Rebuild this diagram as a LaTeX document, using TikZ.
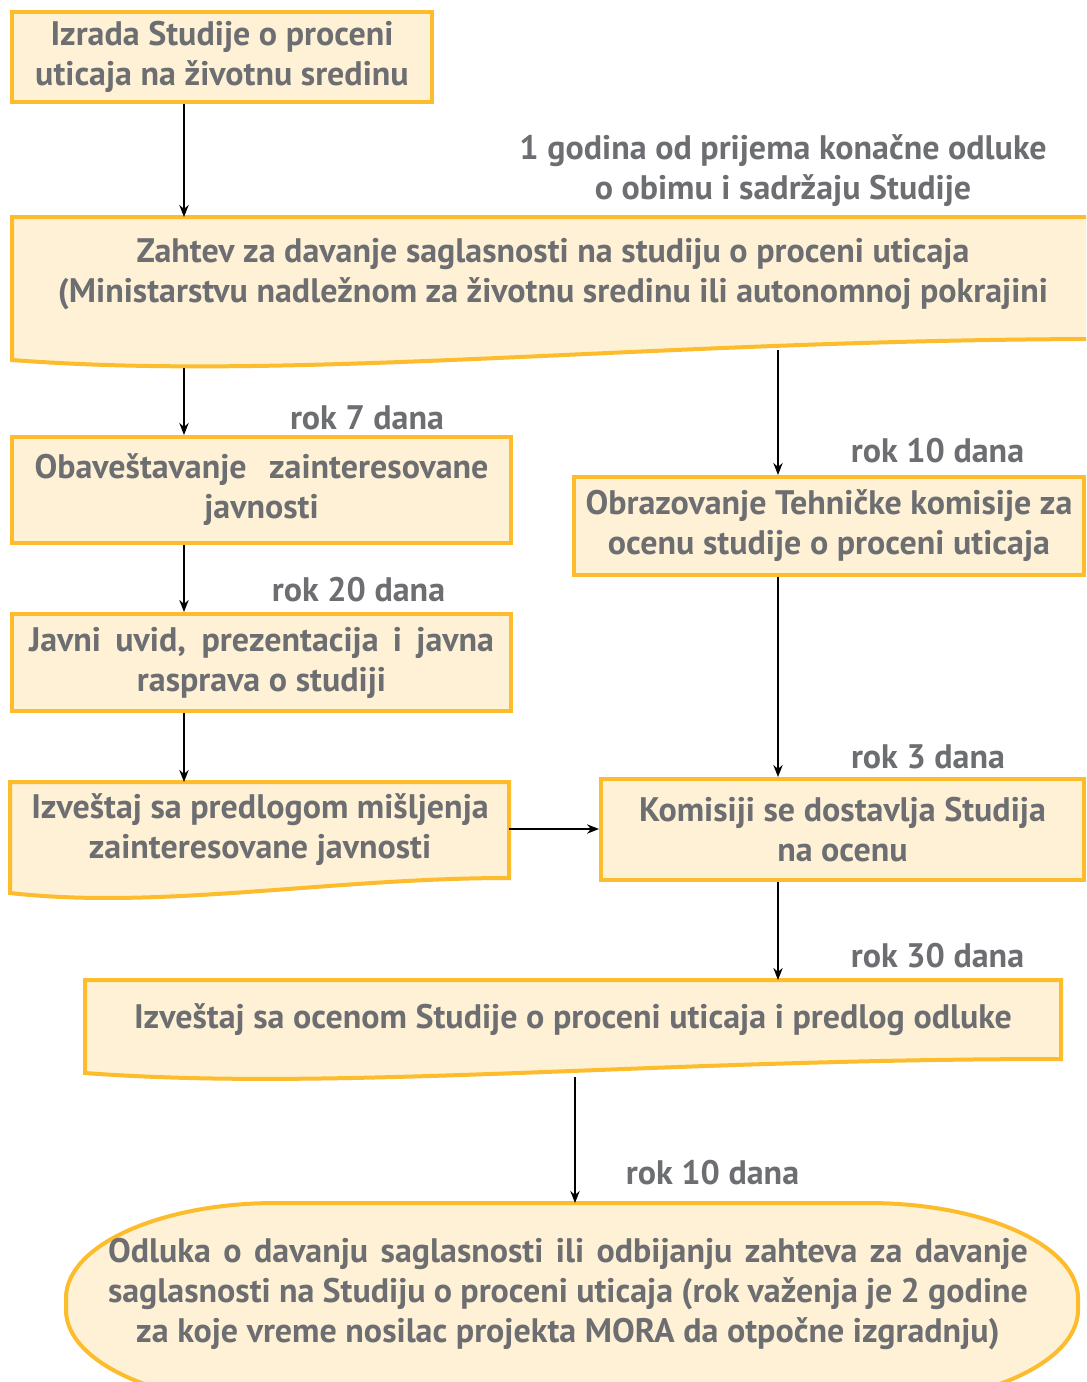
\documentclass[tikz,border=0pt]{standalone}
\usepackage{fontspec}
\setmainfont{PT Sans}
\usetikzlibrary{arrows.meta}
\definecolor{fillc}{HTML}{FEF1D6}
\definecolor{edgec}{HTML}{FCBC2C}
\definecolor{txtc}{HTML}{6D6E71}
\newcommand\dfont{\bfseries\fontsize{25.5}{30}\selectfont}
\begin{document}
\begin{tikzpicture}[x=0.75pt,y=-0.75pt,
  box/.style={draw=edgec, fill=fillc, line width=3pt, inner sep=0pt, align=center, text=txtc, font=\dfont},
  txt/.style={inner sep=0pt, align=center, text=txtc, font=\dfont},
  lbl/.style={inner sep=0pt, text=txtc, font=\dfont, anchor=base},
  shp/.style={draw=edgec, fill=fillc, line width=3pt},
  arr/.style={-{Stealth[length=9pt,width=7pt]}, line width=1.4pt, black}]
\useasboundingbox (0,0) rectangle (1086,1382);
\fill[white] (0,0) rectangle (1086,1382);
\clip (0,0) rectangle (1086,1382);

% box 1
\node[box, minimum width=315pt, minimum height=67.5pt] (b1) at (222,57)
  {Izrada Studije o proceni\\uticaja na životnu sredinu};
\node[txt] (g1) at (783,171) {1 godina od prijema konačne odluke\\o obimu i sadržaju Studije};

% box 2 (document shape)
\draw[shp] (12,217) -- (1096,217) -- (1096,339) .. controls (650,340) and (300,382) .. (12,360) -- cycle;
\node[txt] (t2) at (553,274) {Zahtev za davanje saglasnosti na studiju o proceni uticaja\\(Ministarstvu nadležnom za životnu sredinu ili autonomnoj pokrajini};
\coordinate (b2top) at (184,217);
\coordinate (b2l) at (184,368);
\coordinate (b2r) at (778,350);

% left column
\node[box, minimum width=374.25pt, minimum height=79.5pt] (b3) at (261.5,490)
  {\makebox[340.5pt][s]{Obaveštavanje zainteresovane}\\javnosti};
\node[box, minimum width=374.25pt, minimum height=72.75pt] (b4) at (261.5,662.5)
  {\makebox[348.75pt][s]{Javni uvid, prezentacija i javna}\\rasprava o studiji};

% box 5 (document shape)
\draw[shp] (10,782) -- (509,782) -- (509,878) .. controls (330,878) and (160,910) .. (10,893) -- cycle;
\node[txt] (t5) at (260,830) {Izveštaj sa predlogom mišljenja\\zainteresovane javnosti};
\coordinate (b5top) at (184,782);
\coordinate (b5r) at (509,829);

% right column
\node[box, minimum width=382.5pt, minimum height=73.5pt] (b6) at (829,526)
  {Obrazovanje Tehničke komisije za\\ocenu studije o proceni uticaja};
\node[box, minimum width=362.25pt, minimum height=75.75pt] (b7) at (842.5,829.5)
  {Komisiji se dostavlja Studija\\na ocenu};

% box 8 (document shape)
\draw[shp] (85,980) -- (1061,980) -- (1061,1059) .. controls (650,1059) and (340,1092) .. (85,1073) -- cycle;
\node[txt] (t8) at (573,1020) {Izveštaj sa ocenom Studije o proceni uticaja i predlog odluke};
\coordinate (b8top) at (778,980);
\coordinate (b8b) at (575,1077);

% terminator
\draw[shp] (276,1203) -- (868,1203) arc[start angle=-90, end angle=0, x radius=210, y radius=95]
  -- (1078,1310) arc[start angle=0, end angle=90, x radius=210, y radius=95]
  -- (276,1405) arc[start angle=90, end angle=180, x radius=210, y radius=95]
  -- (66,1298) arc[start angle=180, end angle=270, x radius=210, y radius=95] -- cycle;
\node[txt] (t9) at (568,1294) {\makebox[690pt][s]{Odluka o davanju saglasnosti ili odbijanju zahteva za davanje}\\
  \makebox[690pt][s]{saglasnosti na Studiju o proceni uticaja (rok važenja je 2 godine}\\
  za koje vreme nosilac projekta MORA da otpočne izgradnju)};
\coordinate (b9top) at (575,1203);

% labels
\node[lbl] (l1) at (367,429) {rok 7 dana};
\node[lbl] (l2) at (358.5,601) {rok 20 dana};
\node[lbl] (l3) at (937.5,462) {rok 10 dana};
\node[lbl] (l4) at (928,768) {rok 3 dana};
\node[lbl] (l5) at (937.5,967) {rok 30 dana};
\node[lbl] (l6) at (712.5,1184) {rok 10 dana};

% connectors
\draw[arr] (b1.south -| b2top) -- (b2top);
\draw[arr] (b2l) -- (b3.north -| b2l);
\draw[arr] (b3.south -| b2l) -- (b4.north -| b2l);
\draw[arr] (b4.south -| b2l) -- (b5top);
\draw[arr] (b5r) -- (b7.west |- b5r);
\draw[arr] (b2r) -- (b6.north -| b2r);
\draw[arr] (b6.south -| b2r) -- (b7.north -| b2r);
\draw[arr] (b7.south -| b2r) -- (b8top);
\draw[arr] (b8b) -- (b9top);
\end{tikzpicture}
\end{document}
